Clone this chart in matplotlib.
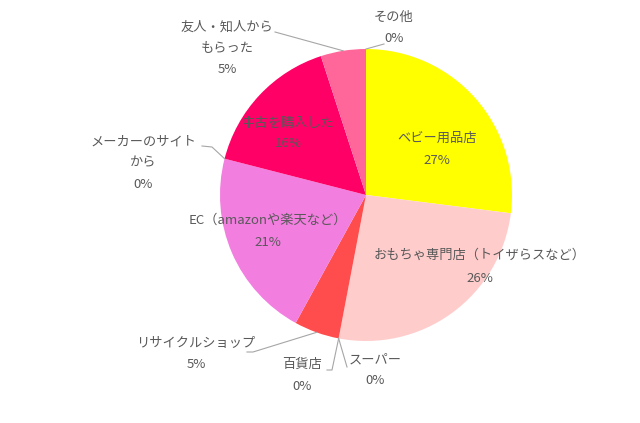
import numpy as np
import matplotlib.pyplot as plt

plt.rcParams['font.family'] = ['Noto Sans CJK JP', 'DejaVu Sans']

# data (clockwise from 12 o'clock)
categories = ['ベビー用品店', 'おもちゃ専門店（トイザらスなど）', 'スーパー', '百貨店',
              'リサイクルショップ', 'EC（amazonや楽天など）', 'メーカーのサイトから',
              '中古を購入した', '友人・知人からもらった', 'その他']
values = [27, 26, 0, 0, 5, 21, 0, 16, 5, 0]
colors = ['#FFFF00', '#FFCCCC', '#FF5050', '#FF5050', '#FF4D4D', '#F27EE0',
          '#F27EE0', '#FF0066', '#FF6699', '#FF6699']

# label lines as drawn in the chart
label_lines = [['ベビー用品店'], ['おもちゃ専門店（トイザらスなど）'], ['スーパー'], ['百貨店'],
               ['リサイクルショップ'], ['EC（amazonや楽天など）'], ['メーカーのサイト', 'から'],
               ['中古を購入した'], ['友人・知人から', 'もらった'], ['その他']]

W, H = 640, 423
cx, cy, r = 366, 195, 146

# label layout in pixel coords: (x centre, y of first line, line step)
label_pos = [(437, 138, 22), (480, 255, 23), (375, 360, 21), (302, 364, 22),
             (196, 343, 22), (268, 220, 22), (143, 142, 21), (288, 123, 20),
             (227, 27, 21), (394, 17, 21)]

# leader lines: points from text to the pie edge (edge point added from wedge angle)
leaders = {2: [(347, 367)], 3: [(327, 370), (332, 370)], 4: [(247, 352), (253, 352)],
           6: [(202, 146), (212, 147)], 8: [(275, 32)], 9: [(384, 44)]}

fig = plt.figure(figsize=(6.4, 4.23), dpi=100)
ax = fig.add_axes([0, 0, 1, 1])
wedges, _ = ax.pie(values, colors=colors, startangle=90, counterclock=False,
                   center=(cx, H - cy), radius=r,
                   wedgeprops=dict(linewidth=0))
ax.set_xlim(0, W)
ax.set_ylim(0, H)
ax.set_aspect('equal')
ax.axis('off')

txt = '#595959'
for i, (lines, (x, y, step)) in enumerate(zip(label_lines, label_pos)):
    rows = lines + ['%d%%' % values[i]]
    for k, s in enumerate(rows):
        ax.text(x, H - (y + k * step), s, ha='center', va='center',
                fontsize=9.5, color=txt)

for i, pts in leaders.items():
    w = wedges[i]
    ang = np.deg2rad((w.theta1 + w.theta2) / 2)
    ex = cx + r * np.cos(ang)
    ey = (H - cy) + r * np.sin(ang)
    xs = [p[0] for p in pts] + [ex]
    ys = [H - p[1] for p in pts] + [ey]
    ax.plot(xs, ys, color='#A6A6A6', linewidth=0.8)

fig.savefig('out.png', dpi=100)
